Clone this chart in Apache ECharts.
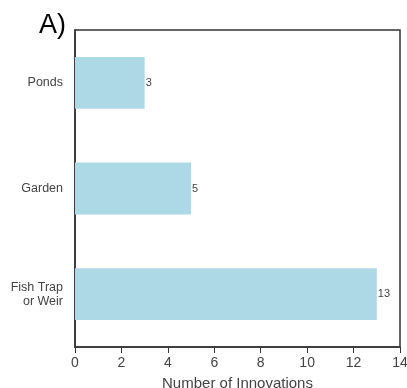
<!DOCTYPE html>
<html>
<head>
<meta charset="utf-8">
<script src="https://cdn.jsdelivr.net/npm/echarts@6/dist/echarts.min.js"></script>
<style>
  html, body { margin: 0; padding: 0; background: #fff; }
  #chart { width: 407px; height: 388px; }
</style>
</head>
<body>
<div id="chart"></div>
<script>
// Innovation types and their counts
const categories = ['Ponds', 'Garden', 'Fish Trap\nor Weir'];
const counts = [3, 5, 13];
const xTicks = [0, 2, 4, 6, 8, 10, 12, 14];

const chart = echarts.init(document.getElementById('chart'), null, { renderer: 'canvas' });
const font = '"Liberation Sans", Arial, sans-serif';

chart.setOption({
  animation: false,
  backgroundColor: '#ffffff',
  title: {
    text: 'A)',
    left: 34,
    top: 7,
    textStyle: { fontFamily: font, fontSize: 27, fontWeight: 'normal', color: '#000' }
  },
  grid: {
    left: 75, right: 7, top: 30, bottom: 41,
    outerBoundsMode: 'none',
    containLabel: false,
    show: true, borderColor: '#333', borderWidth: 1.5, backgroundColor: 'transparent'
  },
  xAxis: {
    type: 'value',
    min: xTicks[0],
    max: xTicks[xTicks.length - 1],
    interval: 2,
    name: 'Number of Innovations',
    nameLocation: 'middle',
    nameGap: 29,
    nameTextStyle: { fontFamily: font, fontSize: 15, color: '#444' },
    axisLine: { show: true, lineStyle: { color: '#333', width: 1.5 } },
    axisTick: { show: true, length: 6, lineStyle: { color: '#333', width: 1 } },
    axisLabel: { fontFamily: font, fontSize: 14, color: '#444', margin: 9 },
    splitLine: { show: false }
  },
  yAxis: {
    type: 'category',
    data: categories,
    inverse: true,
    axisLine: { show: true, lineStyle: { color: '#333', width: 1.5 } },
    axisTick: { show: false },
    axisLabel: { fontFamily: font, fontSize: 12.5, color: '#444', margin: 12, align: 'right', lineHeight: 14 }
  },
  series: [{
    type: 'bar',
    data: counts,
    barWidth: '49%',
    itemStyle: { color: '#add8e6' },
    label: {
      show: true,
      position: 'right',
      distance: 1,
      fontFamily: font,
      fontSize: 11,
      color: '#444'
    }
  }]
});
</script>
</body>
</html>
